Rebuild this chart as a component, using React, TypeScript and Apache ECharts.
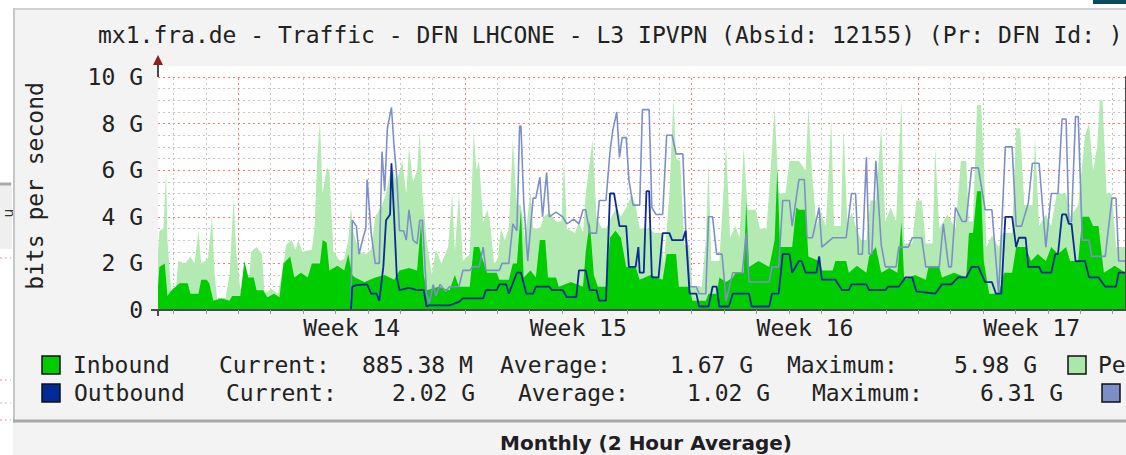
import React, { useEffect, useRef } from "react";
import * as echarts from "echarts";

// ---------- texts ----------
const TITLE = "mx1.fra.de - Traffic - DFN LHCONE - L3 IPVPN (Absid: 12155) (Pr: DFN Id: )";
const Y_TITLE = "bits per second";
const FOOTER = "Monthly (2 Hour Average)";

// ---------- axis ----------
const HOURS_MAX = 717.4; // visible span, hours since left edge of plot
const WEEK_STARTS = [59.5, 227.5, 395.5, 563.5];
const WEEK_NAMES = ["Week 14", "Week 15", "Week 16", "Week 17"];
const Y_MAX = 10;
const Y_STEP = 2;

// ---------- data: [hour, Gbit/s] ----------
const IN_PEAK: [number, number][] = [
  [0, 2.5], [1, 3.4], [4, 3.5], [6, 6.0], [7, 3.0], [10, 0.6], [13, 0.7], [15, 2.1], [20, 2.0], [24, 2.3],
  [27, 2.0], [30, 3.4], [32, 2.0], [37, 2.2], [40, 4.0], [42, 1.5], [44, 0.4], [50, 0.5], [53, 1.5], [56, 4.8],
  [58, 2.5], [61, 0.9], [67, 0.9], [69, 2.5], [73, 2.7], [77, 2.4], [79, 0.7], [84, 0.9], [89, 0.7], [93, 2.0],
  [95, 2.8], [99, 3.0], [102, 2.6], [104, 3.0], [107, 2.5], [114, 2.6], [116, 3.5], [118, 6.5], [120, 8.1], [122, 5.0],
  [125, 6.1], [127, 6.0], [130, 2.5], [135, 2.1], [138, 2.2], [141, 3.0], [143, 4.4], [145, 3.3], [149, 2.5], [154, 2.4],
  [158, 2.6], [161, 4.0], [166, 4.5], [169, 5.0], [173, 6.2], [177, 5.5], [181, 6.4], [184, 5.0], [186, 7.0], [189, 5.5],
  [192, 6.0], [194, 7.7], [196, 5.0], [199, 3.0], [203, 1.5], [206, 2.6], [210, 2.0], [215, 2.7], [218, 5.0], [220, 2.5],
  [223, 5.0], [226, 2.1], [231, 2.4], [234, 7.7], [236, 6.0], [238, 6.4], [241, 3.8], [244, 4.3], [246, 3.8], [249, 2.0],
  [252, 2.2], [254, 3.5], [257, 3.0], [260, 3.5], [263, 7.3], [266, 4.5], [269, 4.5], [272, 3.0], [276, 5.1], [278, 3.5],
  [283, 3.5], [286, 4.0], [290, 4.2], [295, 3.8], [299, 3.8], [301, 6.4], [303, 3.5], [309, 3.3], [312, 3.8], [315, 3.3],
  [317, 5.0], [322, 7.3], [325, 4.0], [329, 3.5], [332, 3.5], [336, 4.0], [340, 4.4], [343, 4.0], [348, 4.5], [351, 5.0],
  [354, 4.5], [357, 3.5], [364, 3.5], [368, 3.3], [373, 3.3], [375, 2.0], [379, 5.0], [382, 9.1], [384, 6.5], [387, 6.4],
  [390, 2.8], [394, 2.8], [396, 1.0], [403, 1.0], [406, 3.0], [408, 6.3], [410, 2.1], [416, 2.1], [419, 5.0], [421, 7.1],
  [424, 3.1], [428, 3.6], [431, 3.1], [434, 7.0], [437, 4.3], [443, 4.3], [446, 3.5], [451, 3.5], [454, 6.0], [457, 8.7],
  [460, 5.0], [465, 5.0], [468, 6.4], [475, 6.4], [480, 6.0], [482, 8.7], [485, 5.7], [488, 3.6], [491, 4.2], [495, 3.6],
  [499, 8.2], [501, 3.6], [506, 3.6], [508, 7.8], [511, 3.6], [514, 4.2], [517, 3.6], [521, 3.0], [525, 3.0], [528, 4.7],
  [532, 4.7], [536, 7.9], [539, 3.8], [543, 4.4], [547, 3.8], [551, 9.1], [553, 2.85], [559, 2.85], [562, 4.7], [566, 4.7],
  [569, 2.85], [574, 2.85], [576, 7.0], [579, 3.5], [585, 4.1], [591, 3.5], [595, 6.4], [599, 6.4], [601, 3.8], [604, 3.8],
  [607, 8.8], [610, 8.8], [612, 6.4], [614, 2.7], [618, 3.2], [623, 2.7], [626, 3.3], [633, 3.3], [636, 7.8], [639, 7.8],
  [642, 4.5], [648, 4.5], [650, 7.4], [653, 3.6], [658, 4.1], [662, 3.6], [666, 5.0], [673, 5.0], [676, 4.0], [682, 4.5],
  [687, 7.5], [690, 8.0], [693, 6.0], [696, 7.0], [698, 9.0], [700, 9.0], [703, 5.0], [707, 5.0], [710, 2.7], [717, 2.7],
];

const IN_AVG: [number, number][] = [
  [0, 1.0], [1, 1.85], [5, 2.0], [7, 0.6], [10, 0.85], [16, 1.15], [22, 1.15], [24, 0.7], [30, 0.7], [32, 1.3],
  [36, 1.3], [38, 1.15], [41, 0.4], [47, 0.5], [53, 0.4], [55, 0.6], [61, 0.6], [64, 2.1], [67, 1.4], [71, 1.4],
  [73, 0.85], [78, 0.85], [81, 0.55], [86, 0.7], [90, 0.55], [93, 2.0], [98, 2.3], [101, 1.4], [106, 1.6], [111, 1.4],
  [114, 2.0], [120, 2.0], [122, 3.0], [125, 2.9], [127, 1.7], [133, 1.9], [138, 1.7], [141, 2.4], [144, 1.5], [146, 1.4],
  [153, 1.2], [161, 1.4], [168, 1.5], [175, 1.3], [179, 1.7], [186, 1.8], [192, 1.7], [195, 3.8], [197, 1.5], [199, 0.85],
  [208, 1.0], [216, 0.85], [220, 1.5], [223, 1.0], [231, 1.0], [234, 2.7], [238, 2.7], [241, 2.1], [244, 1.6], [251, 1.6],
  [253, 1.3], [260, 1.3], [263, 2.0], [266, 2.0], [269, 4.3], [271, 1.4], [276, 1.7], [280, 1.4], [283, 3.0], [287, 3.0],
  [289, 1.4], [295, 1.4], [297, 1.0], [306, 1.2], [315, 1.0], [317, 2.5], [320, 3.8], [323, 1.5], [326, 1.0], [332, 1.0],
  [335, 3.1], [339, 3.4], [343, 3.1], [347, 1.85], [354, 1.85], [357, 1.3], [365, 1.5], [374, 1.3], [377, 2.4], [384, 2.4],
  [386, 1.0], [394, 1.0], [396, 0.4], [406, 0.4], [408, 0.7], [414, 0.7], [416, 1.4], [421, 1.2], [426, 1.4], [428, 1.6],
  [434, 1.6], [436, 4.7], [438, 1.85], [445, 2.1], [453, 1.85], [457, 3.0], [459, 6.1], [461, 2.7], [470, 2.7], [473, 4.4],
  [475, 4.3], [480, 4.3], [482, 2.3], [490, 2.1], [492, 1.7], [500, 1.7], [502, 2.1], [510, 2.1], [512, 1.6], [518, 1.9],
  [525, 1.6], [527, 2.3], [532, 2.7], [536, 1.6], [542, 1.8], [548, 1.6], [551, 3.8], [553, 1.3], [561, 1.5], [569, 1.3],
  [571, 1.85], [579, 1.85], [581, 1.4], [590, 1.6], [599, 1.4], [601, 3.3], [604, 3.3], [607, 5.1], [610, 5.1], [612, 2.1],
  [616, 0.7], [623, 0.7], [627, 1.6], [633, 1.6], [636, 2.7], [643, 2.7], [647, 2.1], [652, 2.4], [658, 2.1], [662, 2.7],
  [667, 2.4], [673, 2.7], [676, 2.1], [682, 2.1], [685, 4.0], [690, 4.0], [693, 3.6], [697, 3.6], [701, 1.6], [709, 1.9],
  [717, 1.6],
];

const OUT_PEAK: [number, number][] = [
  [0, 0], [143, 0], [144, 3.85], [147, 3.6], [149, 2.4], [152, 3.1], [154, 3.5], [155, 5.6], [158, 3.3], [161, 2.0],
  [164, 2.0], [166, 6.8], [168, 5.1], [170, 7.8], [173, 8.7], [175, 7.0], [177, 5.7], [179, 3.4], [182, 3.4], [184, 3.0],
  [186, 4.3], [189, 3.0], [192, 2.85], [194, 3.85], [196, 3.85], [199, 0.7], [201, 0.3], [204, 1.1], [206, 0.6], [209, 1.1],
  [213, 0.8], [216, 1.0], [223, 1.0], [226, 1.7], [231, 1.7], [233, 1.85], [238, 1.85], [241, 2.7], [243, 1.7], [253, 1.7],
  [255, 2.0], [260, 2.0], [263, 3.7], [266, 3.4], [268, 7.9], [269, 7.9], [271, 4.7], [274, 2.1], [278, 4.8], [280, 4.8],
  [283, 5.7], [285, 4.0], [288, 5.9], [290, 4.0], [295, 4.2], [300, 4.0], [303, 3.7], [308, 3.9], [312, 3.7], [315, 4.3],
  [317, 4.3], [320, 3.3], [325, 3.3], [327, 4.7], [332, 4.7], [335, 6.8], [337, 7.7], [340, 8.5], [342, 6.55], [344, 7.4],
  [347, 7.4], [349, 5.6], [352, 4.5], [357, 4.5], [359, 8.6], [364, 8.6], [366, 4.4], [369, 4.1], [374, 4.1], [377, 7.5],
  [381, 7.5], [384, 6.7], [389, 6.7], [391, 3.6], [394, 1.0], [399, 1.0], [401, 0.7], [406, 0.7], [408, 4.0], [411, 4.0],
  [414, 2.4], [418, 2.4], [421, 0.4], [426, 1.6], [433, 1.6], [436, 3.3], [438, 1.2], [453, 1.2], [455, 1.85], [460, 1.85],
  [463, 4.7], [468, 4.7], [470, 3.6], [475, 5.6], [479, 5.6], [481, 3.1], [485, 3.1], [490, 4.4], [492, 2.7], [500, 3.1],
  [510, 3.1], [514, 5.0], [517, 5.0], [519, 2.4], [522, 2.4], [525, 6.55], [527, 2.4], [529, 2.4], [532, 6.4], [536, 2.8],
  [539, 1.85], [547, 1.85], [549, 2.7], [556, 2.7], [559, 3.1], [566, 3.1], [569, 1.85], [579, 1.85], [582, 3.7], [586, 1.85],
  [588, 1.85], [591, 4.4], [596, 3.8], [599, 3.8], [603, 6.1], [608, 6.1], [613, 4.3], [618, 4.3], [623, 0.7], [628, 7.0],
  [633, 7.0], [636, 3.6], [640, 3.6], [645, 4.6], [648, 6.3], [653, 6.3], [658, 2.7], [662, 5.0], [667, 5.0], [670, 8.2],
  [673, 8.2], [675, 3.8], [677, 3.8], [680, 8.3], [682, 8.3], [685, 3.0], [690, 3.0], [692, 2.3], [702, 2.3], [707, 4.8],
  [710, 4.8], [712, 2.1], [717, 2.1],
];

const OUT_AVG: [number, number][] = [
  [0, 0], [143, 0], [144, 1.0], [147, 1.07], [155, 1.1], [158, 0.7], [162, 0.7], [164, 0.4], [167, 1.85], [169, 3.85],
  [172, 4.1], [173, 6.3], [175, 4.0], [177, 1.4], [179, 0.85], [186, 0.95], [192, 0.85], [197, 0.85], [199, 0.15], [201, 0.2],
  [216, 0.2], [223, 0.35], [226, 0.5], [241, 0.5], [243, 0.85], [251, 0.85], [253, 1.1], [258, 1.1], [260, 0.7], [266, 1.6],
  [269, 1.6], [273, 0.7], [278, 0.7], [280, 1.0], [290, 1.0], [292, 0.85], [300, 0.85], [303, 0.55], [310, 0.55], [312, 1.7],
  [317, 1.7], [320, 0.85], [325, 0.85], [327, 0.4], [332, 0.4], [335, 5.0], [338, 5.0], [342, 3.6], [347, 3.6], [349, 1.85],
  [354, 1.85], [356, 2.7], [357, 1.6], [360, 1.6], [362, 5.1], [364, 5.1], [366, 1.4], [371, 1.4], [374, 3.3], [379, 3.3],
  [381, 3.0], [389, 3.0], [391, 3.4], [394, 0.7], [399, 0.7], [401, 0.15], [408, 0.15], [411, 1.0], [414, 1.0], [416, 0.15],
  [423, 0.15], [426, 0.7], [438, 0.7], [440, 0.15], [453, 0.15], [455, 0.7], [460, 0.7], [463, 2.4], [468, 2.4], [470, 1.6],
  [475, 2.1], [477, 2.1], [480, 1.6], [488, 1.6], [490, 2.3], [492, 1.3], [502, 1.3], [507, 0.85], [512, 0.85], [514, 1.1],
  [525, 1.1], [527, 0.85], [539, 0.85], [541, 1.0], [549, 1.0], [554, 1.4], [559, 1.4], [562, 0.8], [576, 0.7], [581, 1.1],
  [588, 1.1], [593, 1.4], [599, 1.4], [603, 1.85], [608, 1.85], [613, 1.2], [618, 1.2], [621, 0.7], [625, 0.7], [628, 4.0],
  [633, 4.0], [636, 2.7], [638, 3.1], [643, 3.1], [645, 1.85], [653, 1.85], [655, 1.6], [662, 1.6], [665, 2.4], [667, 2.4],
  [670, 4.1], [673, 4.1], [675, 3.7], [677, 3.7], [680, 2.1], [687, 2.1], [690, 1.4], [697, 1.4], [702, 1.0], [710, 1.0],
  [712, 1.6], [717, 1.6],
];

// ---------- legend (the peak names are cut by the picture's right edge) ----------
const LEGEND_ROWS = [
  { name: "Inbound", current: "885.38 M", average: "1.67 G", maximum: "5.98 G", color: "#00cc00", peakName: "Pe", peakColor: "#a9e8a9" },
  { name: "Outbound", current: "2.02 G", average: "1.02 G", maximum: "6.31 G", color: "#002a97", peakName: "", peakColor: "#7b8ec8" },
];

const MONO = '"DejaVu Sans Mono", monospace';

export default function App() {
  const ref = useRef<HTMLDivElement>(null);

  useEffect(() => {
    if (!ref.current) return;
    const chart = echarts.init(ref.current, undefined, { renderer: "svg" });

    const dayLines: number[] = [];
    for (let h = WEEK_STARTS[0] - 48; h <= HOURS_MAX; h += 24) dayLines.push(h);
    const weekMids = WEEK_STARTS.map((w) => w + 84);
    const isWeek = (h: number) => WEEK_STARTS.some((w) => Math.abs(w - h) < 0.01);

    const textStyle = (text: string, x: number, y: number, extra: any = {}) => ({
      type: "text",
      x,
      y,
      z: 50,
      style: { text, font: `23px ${MONO}`, fill: "#222", verticalAlign: "middle", align: "left", ...extra },
    });

    // legend layout (x positions of the pieces on each row)
    const rowY = [365, 393];
    const rowX = [
      { name: 73, cur: 219, curV: 362, avg: 500, avgV: 670, max: 787, maxV: 954, sq: 1068, peak: 1098 },
      { name: 74, cur: 226, curV: 392, avg: 518, avgV: 687, max: 812, maxV: 980, sq: 1102, peak: 1132 },
    ];
    const legendGraphics: any[] = [];
    LEGEND_ROWS.forEach((r, i) => {
      const y = rowY[i];
      const p = rowX[i];
      legendGraphics.push({
        type: "rect", z: 50,
        shape: { x: 42, y: y - 9, width: 18, height: 18 },
        style: { fill: r.color, stroke: "#111", lineWidth: 1.5 },
      });
      legendGraphics.push(textStyle(r.name, p.name, y));
      legendGraphics.push(textStyle("Current:", p.cur, y));
      legendGraphics.push(textStyle(r.current, p.curV, y));
      legendGraphics.push(textStyle("Average:", p.avg, y));
      legendGraphics.push(textStyle(r.average, p.avgV, y));
      legendGraphics.push(textStyle("Maximum:", p.max, y));
      legendGraphics.push(textStyle(r.maximum, p.maxV, y));
      legendGraphics.push({
        type: "rect", z: 50,
        shape: { x: p.sq, y: y - 9, width: 18, height: 18 },
        style: { fill: r.peakColor, stroke: "#111", lineWidth: 1.5 },
      });
      if (r.peakName) legendGraphics.push(textStyle(r.peakName, p.peak, y));
    });

    const option: any = {
      animation: false,
      backgroundColor: "#f3f3f3",
      grid: { left: 158, right: 0, top: 77, bottom: 145, show: true, backgroundColor: "#ffffff", borderWidth: 0 },
      xAxis: {
        type: "value",
        min: 0,
        max: HOURS_MAX,
        z: 10,
        axisLine: { show: true, lineStyle: { color: "#4a4a4a", width: 2 } },
        axisTick: { show: true, customValues: dayLines, length: 4, lineStyle: { color: "#999" } },
        axisLabel: {
          show: true,
          customValues: weekMids,
          margin: 6,
          fontFamily: MONO,
          fontSize: 23,
          color: "#222",
          formatter: (v: number) => {
            const i = weekMids.findIndex((m) => Math.abs(m - v) < 1);
            return i >= 0 ? WEEK_NAMES[i] : "";
          },
        },
        splitLine: { show: false },
      },
      yAxis: [
        {
          type: "value",
          min: 0,
          max: Y_MAX,
          interval: Y_STEP,
          axisLine: { show: false },
          axisTick: { show: false },
          axisLabel: {
            margin: 15,
            fontFamily: MONO,
            fontSize: 23,
            color: "#222",
            formatter: (v: number) => (v === 0 ? "0" : `${v} G`),
          },
          splitLine: { show: true, lineStyle: { color: "#f07a7a", type: [2, 3], width: 1 } },
          minorTick: { show: false, splitNumber: 4 },
          minorSplitLine: { show: true, lineStyle: { color: "#c4c4c4", type: [2, 3], width: 1 } },
        },
        {
          type: "value",
          min: 0,
          max: Y_MAX,
          interval: Y_STEP,
          z: 10,
          axisLine: { show: true, lineStyle: { color: "#4a4a4a", width: 2 } },
          axisTick: { show: true, length: 4, lineStyle: { color: "#888" } },
          minorTick: { show: true, splitNumber: 4, length: 3, lineStyle: { color: "#888" } },
          axisLabel: { show: false },
          splitLine: { show: false },
        },
      ],
      series: [
        {
          type: "line",
          data: [[0, 0]],
          showSymbol: false,
          silent: true,
          lineStyle: { width: 0 },
          z: 1,
          markLine: {
            z: 1,
            silent: true,
            symbol: ["none", "none"],
            label: { show: false },
            animation: false,
            data: dayLines.map((h) => ({
              xAxis: h,
              lineStyle: isWeek(h)
                ? { color: "#f07a7a", type: [2, 3], width: 1 }
                : { color: "#c4c4c4", type: [2, 3], width: 1 },
            })),
          },
        },
        {
          name: "Peak Inbound",
          type: "line",
          data: IN_PEAK,
          showSymbol: false,
          silent: true,
          z: 2,
          lineStyle: { width: 0 },
          areaStyle: { color: "#b2eab2", opacity: 1 },
        },
        {
          name: "Inbound",
          type: "line",
          data: IN_AVG,
          showSymbol: false,
          silent: true,
          z: 3,
          lineStyle: { width: 0 },
          areaStyle: { color: "#00cc00", opacity: 1 },
        },
        {
          name: "Peak Outbound",
          type: "line",
          data: OUT_PEAK,
          showSymbol: false,
          silent: true,
          z: 4,
          lineStyle: { color: "#7d8fcb", width: 1.6 },
        },
        {
          name: "Outbound",
          type: "line",
          data: OUT_AVG,
          showSymbol: false,
          silent: true,
          z: 5,
          lineStyle: { color: "#0b2a95", width: 1.8 },
        },
      ],
      graphic: [
        // page around the graph
        { type: "rect", z: 0, shape: { x: 0, y: 0, width: 1126, height: 8 }, style: { fill: "#ffffff" } },
        { type: "rect", z: 0, shape: { x: 1093, y: 0, width: 33, height: 4 }, style: { fill: "#0c4a62" } },
        { type: "rect", z: 0, shape: { x: 0, y: 0, width: 13, height: 455 }, style: { fill: "#ffffff" } },
        { type: "rect", z: 0, shape: { x: 0, y: 183, width: 12, height: 66 }, style: { fill: "#efefef" } },
        { type: "line", z: 0, shape: { x1: 0, y1: 184, x2: 11, y2: 184 }, style: { stroke: "#a8a8a8", lineWidth: 3 } },
        { type: "text", z: 1, x: 8, y: 213, rotation: Math.PI / 2, style: { text: "u", font: "14px 'DejaVu Sans'", fill: "#333", align: "center", verticalAlign: "middle" } },
        { type: "line", z: 0, shape: { x1: 0, y1: 258, x2: 11, y2: 258 }, style: { stroke: "#f08a8a", lineWidth: 1, lineDash: [2, 3] } },
        { type: "line", z: 0, shape: { x1: 0, y1: 380, x2: 11, y2: 380 }, style: { stroke: "#f08a8a", lineWidth: 1, lineDash: [2, 3] } },
        { type: "line", z: 0, shape: { x1: 0, y1: 403, x2: 11, y2: 403 }, style: { stroke: "#c0c0c0", lineWidth: 1, lineDash: [2, 3] } },
        { type: "line", z: 0, shape: { x1: 0, y1: 420, x2: 11, y2: 420 }, style: { stroke: "#f08a8a", lineWidth: 1, lineDash: [2, 3] } },
        // graph panel borders
        { type: "line", z: 1, shape: { x1: 13, y1: 9, x2: 1126, y2: 9 }, style: { stroke: "#d2d2d2", lineWidth: 2 } },
        { type: "line", z: 1, shape: { x1: 14, y1: 8, x2: 14, y2: 423 }, style: { stroke: "#c6c6c6", lineWidth: 2 } },
        { type: "line", z: 1, shape: { x1: 13, y1: 421, x2: 1126, y2: 421 }, style: { stroke: "#a9a9a9", lineWidth: 3 } },
        // plot area above the 10 G line
        { type: "rect", z: 0, shape: { x: 158, y: 66, width: 968, height: 11 }, style: { fill: "#ffffff" } },
        // axis extensions and arrow
        { type: "line", z: 60, shape: { x1: 158, y1: 63, x2: 158, y2: 77 }, style: { stroke: "#4a4a4a", lineWidth: 2 } },
        { type: "line", z: 60, shape: { x1: 151, y1: 310, x2: 158, y2: 310 }, style: { stroke: "#4a4a4a", lineWidth: 2 } },
        { type: "line", z: 60, shape: { x1: 158, y1: 310, x2: 158, y2: 316 }, style: { stroke: "#4a4a4a", lineWidth: 2 } },
        { type: "polygon", z: 60, shape: { points: [[158, 55], [153, 65], [163, 65]] }, style: { fill: "#8e1f1f" } },
        // titles
        textStyle(TITLE, 98, 35),
        {
          type: "text", z: 50, x: 35, y: 186, rotation: Math.PI / 2,
          style: { text: Y_TITLE, font: `23px ${MONO}`, fill: "#222", align: "center", verticalAlign: "middle" },
        },
        {
          type: "text", z: 50, x: 646, y: 443,
          style: { text: FOOTER, font: "bold 20px 'DejaVu Sans'", fill: "#1e1e24", align: "center", verticalAlign: "middle" },
        },
        ...legendGraphics,
      ],
    };

    chart.setOption(option);
    return () => chart.dispose();
  }, []);

  return <div ref={ref} style={{ position: "fixed", left: 0, top: 0, width: 1126, height: 455 }} />;
}
